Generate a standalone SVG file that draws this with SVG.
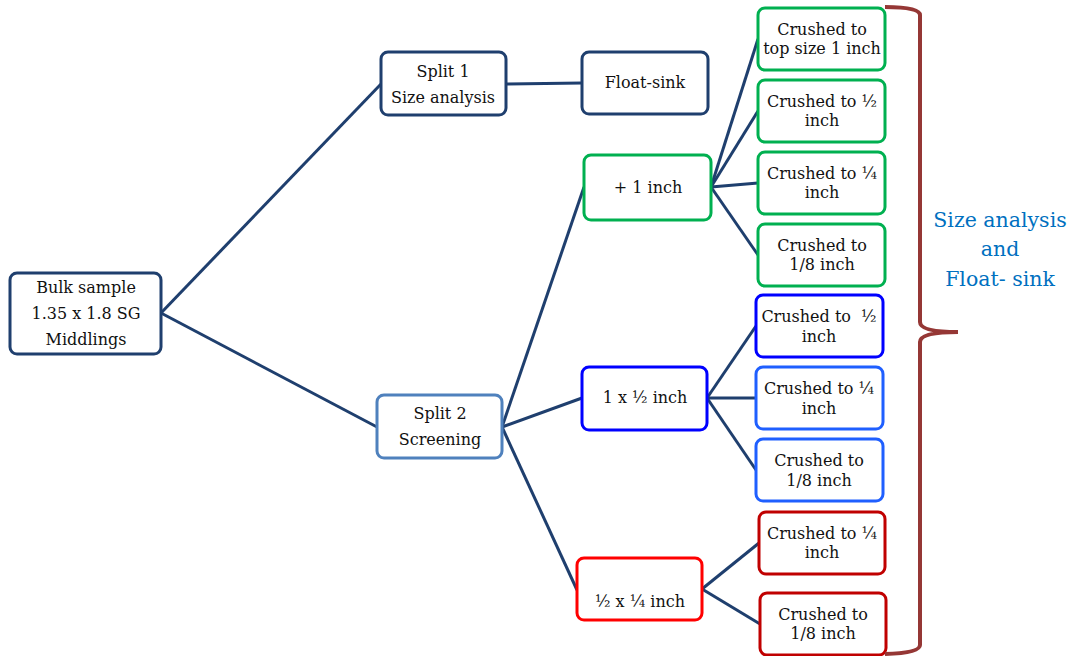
<svg xmlns="http://www.w3.org/2000/svg" width="1074" height="656" viewBox="0 0 1074 656">
<style>
.box{fill:#fff;stroke-width:3}
.n{stroke:#1F3F6E}
.g{stroke:#00B050}
.b{stroke:#0000FF}
.b2{stroke:#1F5FFF}
.lb{stroke:#4F81BD}
.r{stroke:#FF0000}
.dr{stroke:#C00000}
text{font-family:"DejaVu Serif","Liberation Serif",serif;font-size:16px;fill:#111;text-anchor:middle}
.side{font-size:20.5px;fill:#0070C0}
#connectors line{stroke:#1F3F6E;stroke-width:3;fill:none}
</style>
<rect width="1074" height="656" fill="#fff"/>
<g id="connectors">
<line x1="161" y1="313" x2="381" y2="84"/>
<line x1="161" y1="313" x2="377" y2="427"/>
<line x1="506" y1="84" x2="582" y2="83"/>
<line x1="502" y1="427" x2="584" y2="187"/>
<line x1="502" y1="427" x2="582" y2="398"/>
<line x1="502" y1="427" x2="577" y2="590"/>
<line x1="711" y1="187" x2="758" y2="39"/>
<line x1="711" y1="187" x2="758" y2="111"/>
<line x1="711" y1="187" x2="758" y2="183"/>
<line x1="711" y1="187" x2="758" y2="255"/>
<line x1="707" y1="398" x2="756" y2="326"/>
<line x1="707" y1="398" x2="756" y2="398"/>
<line x1="707" y1="398" x2="756" y2="470"/>
<line x1="702" y1="589" x2="759" y2="543"/>
<line x1="702" y1="589" x2="760" y2="624"/>
</g>
<g id="bulk"><rect class="box n" x="10" y="273" width="151" height="81" rx="7"/>
<text x="86" y="293">Bulk sample</text><text x="86" y="319">1.35 x 1.8 SG</text><text x="86" y="345">Middlings</text></g>
<g id="split1"><rect class="box n" x="381" y="52" width="125" height="63" rx="7"/>
<text x="443" y="77">Split 1</text><text x="443" y="103">Size analysis</text></g>
<g id="floatsink"><rect class="box n" x="582" y="52" width="126" height="62" rx="7"/>
<text x="645" y="88">Float-sink</text></g>
<g id="split2"><rect class="box lb" x="377" y="395" width="125" height="63" rx="7"/>
<text x="440" y="419">Split 2</text><text x="440" y="445">Screening</text></g>
<g id="plus1"><rect class="box g" x="584" y="155" width="127" height="65" rx="7"/>
<text x="648" y="193">+ 1 inch</text></g>
<g id="onexhalf"><rect class="box b" x="582" y="367" width="125" height="63" rx="7"/>
<text x="645" y="403">1 x ½ inch</text></g>
<g id="halfxquarter"><rect class="box r" x="577" y="558" width="125" height="62" rx="7"/>
<text x="640" y="607">½ x ¼ inch</text></g>
<g id="g1"><rect class="box g" x="758" y="8" width="127" height="62" rx="7"/>
<text x="822" y="35">Crushed to</text><text x="822" y="54">top size 1 inch</text></g>
<g id="g2"><rect class="box g" x="758" y="80" width="127" height="62" rx="7"/>
<text x="822" y="107">Crushed to ½</text><text x="822" y="126">inch</text></g>
<g id="g3"><rect class="box g" x="758" y="152" width="127" height="62" rx="7"/>
<text x="822" y="179">Crushed to ¼</text><text x="822" y="198">inch</text></g>
<g id="g4"><rect class="box g" x="758" y="224" width="127" height="62" rx="7"/>
<text x="822" y="251">Crushed to</text><text x="822" y="270">1/8 inch</text></g>
<g id="b1"><rect class="box b" x="756" y="295" width="127" height="62" rx="7"/>
<text x="819" y="322" xml:space="preserve">Crushed to  ½</text><text x="819" y="342">inch</text></g>
<g id="b2"><rect class="box b2" x="756" y="367" width="127" height="62" rx="7"/>
<text x="819" y="394">Crushed to ¼</text><text x="819" y="414">inch</text></g>
<g id="b3"><rect class="box b2" x="756" y="439" width="127" height="62" rx="7"/>
<text x="819" y="466">Crushed to</text><text x="819" y="486">1/8 inch</text></g>
<g id="r1"><rect class="box dr" x="759" y="512" width="126" height="62" rx="7"/>
<text x="822" y="539">Crushed to ¼</text><text x="822" y="558">inch</text></g>
<g id="r2"><rect class="box dr" x="760" y="593" width="126" height="62" rx="7"/>
<text x="823" y="620">Crushed to</text><text x="823" y="639">1/8 inch</text></g>
<g id="brace">
<path d="M885,7 Q920,7 920,15 L920,322 Q920,332 958,332 Q920,332 920,342 L920,645 Q920,653 885,654" fill="none" stroke="#953735" stroke-width="4"/>
</g>
<g id="label">
<text class="side" x="1000" y="227">Size analysis</text>
<text class="side" x="1000" y="256">and</text>
<text class="side" x="1000" y="286">Float- sink</text>
</g>
</svg>
